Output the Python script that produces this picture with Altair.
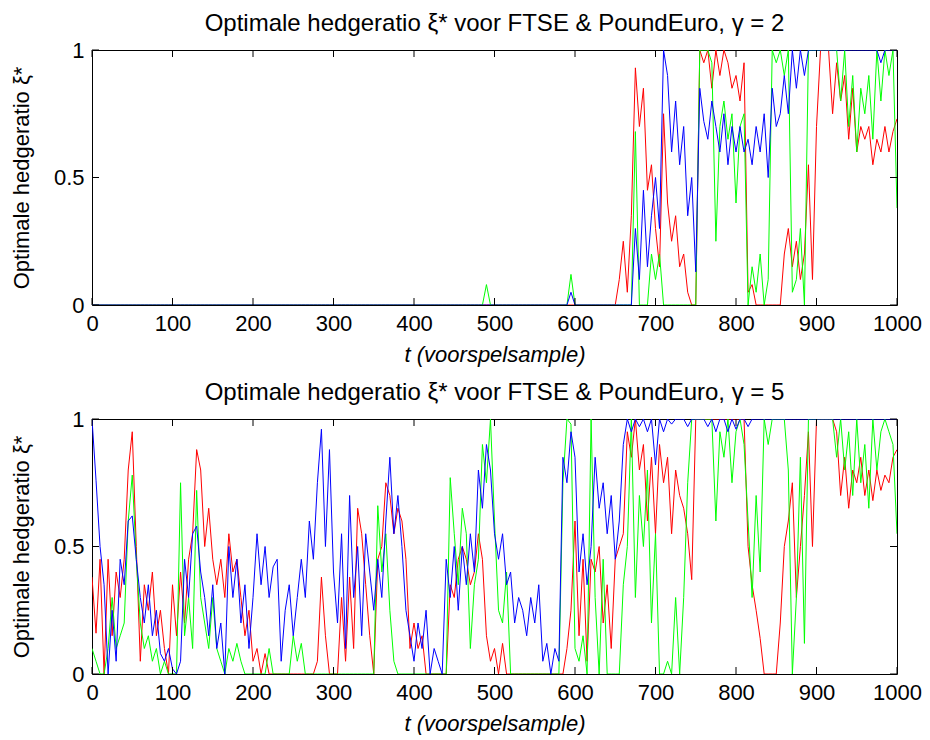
import altair as alt
import pandas as pd

# sample times (every 5th observation of the 1000-step forecast sample)
t_grid = list(range(0, 1001, 5))
x_ticks = [0, 100, 200, 300, 400, 500, 600, 700, 800, 900, 1000]
y_ticks = [0, 0.5, 1]

Z20 = [0.0] * 20

# ---------------- gamma = 2 (top panel) ----------------
blue_g2 = (Z20 * 5
    + [0.0] * 19 + [0.05]
    + [0.0] * 15 + [0.3, 0.1, 0.45, 0.15, 0.35]
    + [0.5, 0.3, 1.0, 0.9, 0.6, 0.8, 0.55, 0.7, 0.35, 0.5, 0.13, 0.85, 0.72, 0.65, 0.8, 0.7, 0.6, 0.75, 0.55, 0.7]
    + [0.6, 0.7, 0.6, 0.65, 0.55, 0.7, 0.6, 0.75, 0.5, 0.85, 0.7, 0.75, 0.9, 0.75, 1.0, 0.85, 1.0, 0.9, 1.0, 1.0]
    + [1.0] * 16 + [0.95, 1.0, 1.0, 1.0]
    + [1.0])
red_g2 = (Z20 * 6
    + [0.0] * 11 + [0.1, 0.25, 0.05, 0.35, 0.93, 0.7, 0.85, 0.45, 0.55]
    + [0.3, 0.15, 0.75, 0.4, 0.25, 0.35, 0.15, 0.2, 0.05, 0.0, 0.0, 1.0, 0.95, 1.0, 0.85, 1.0, 0.9, 1.0, 0.95, 0.85]
    + [0.9, 0.8, 0.95, 0.05, 0.08, 0.0, 0.0, 0.0, 0.0, 0.0, 0.0, 0.0, 0.2, 0.3, 0.15, 0.25, 0.1, 0.2, 0.55, 0.1]
    + [0.7, 1.0, 1.0, 1.0, 0.75, 0.95, 0.8, 0.9, 0.65, 0.85, 0.6, 0.7, 0.65, 0.7, 0.55, 0.65, 0.6, 0.7, 0.6, 0.68]
    + [0.73])
green_g2 = (Z20 * 4
    + [0.0] * 18 + [0.08, 0.0]
    + [0.0] * 19 + [0.12]
    + [0.0] * 15 + [0.68, 0.0, 0.0, 0.0, 0.2]
    + [0.1, 0.2, 0.0, 0.0, 0.0, 0.0, 0.0, 0.0, 0.0, 0.0, 0.0, 1.0, 1.0, 1.0, 0.95, 0.25, 0.7, 0.8, 0.65, 0.75]
    + [0.4, 0.7, 0.75, 0.0, 0.15, 0.05, 0.2, 0.0, 0.1, 1.0, 0.95, 1.0, 0.9, 1.0, 0.05, 0.1, 0.3, 0.0, 1.0, 1.0]
    + [1.0, 1.0, 1.0, 1.0, 1.0, 1.0, 0.8, 1.0, 0.7, 0.9, 0.6, 0.85, 0.75, 0.9, 0.65, 1.0, 0.8, 1.0, 0.9, 1.0]
    + [0.38])

# ---------------- gamma = 5 (bottom panel) ----------------
blue_g5 = ([1.0, 0.76, 0.5, 0.35, 0.0, 0.25, 0.05, 0.45, 0.35, 0.6, 0.62, 0.45, 0.3, 0.2, 0.35, 0.15, 0.25, 0.08, 0.05, 0.1]
    + [0.02, 0.0, 0.05, 0.45, 0.3, 0.55, 0.58, 0.4, 0.3, 0.15, 0.35, 0.1, 0.2, 0.0, 0.5, 0.3, 0.45, 0.2, 0.35, 0.1]
    + [0.3, 0.55, 0.35, 0.5, 0.3, 0.42, 0.45, 0.05, 0.25, 0.35, 0.15, 0.3, 0.45, 0.3, 0.6, 0.45, 0.75, 0.96, 0.5, 0.88]
    + [0.4, 0.2, 0.55, 0.1, 0.7, 0.3, 0.5, 0.15, 0.55, 0.4, 0.25, 0.45, 0.3, 0.6, 0.85, 0.55, 0.7, 0.5, 0.25, 0.15]
    + [0.05, 0.2, 0.1, 0.25, 0.0, 0.1, 0.05, 0.0, 0.45, 0.3, 0.5, 0.25, 0.5, 0.35, 0.55, 0.4, 0.8, 0.65, 0.9, 0.8]
    + [0.55, 0.45, 0.55, 0.35, 0.4, 0.2, 0.3, 0.25, 0.15, 0.3, 0.2, 0.35, 0.05, 0.12, 0.0, 0.1, 0.05, 0.85, 0.75, 0.95]
    + [0.85, 0.4, 0.55, 0.35, 0.5, 0.85, 0.65, 0.75, 0.55, 0.7, 0.45, 0.6, 0.9, 1.0, 0.95, 1.0, 0.97, 1.0, 0.95, 1.0]
    + [0.82, 1.0, 0.95, 1.0, 0.98, 1.0, 1.0, 1.0, 0.97, 1.0, 1.0, 1.0, 1.0, 0.97, 1.0, 0.95, 1.0, 1.0, 0.95, 1.0]
    + [0.96, 1.0, 1.0, 0.97, 1.0] + [1.0] * 15
    + [1.0] * 20
    + [1.0])
red_g5 = ([0.38, 0.16, 0.45, 0.0, 0.45, 0.15, 0.4, 0.3, 0.45, 0.8, 0.95, 0.5, 0.05, 0.35, 0.25, 0.4, 0.15, 0.25, 0.1, 0.0]
    + [0.35, 0.15, 0.4, 0.2, 0.45, 0.55, 0.88, 0.8, 0.5, 0.65, 0.45, 0.35, 0.45, 0.3, 0.55, 0.4, 0.45, 0.3, 0.15, 0.25]
    + [0.05, 0.1, 0.0, 0.08, 0.0, 0.0, 0.0, 0.0, 0.0, 0.0, 0.0, 0.0, 0.0, 0.0, 0.0, 0.0, 0.05, 0.38, 0.15, 0.0]
    + [0.0, 0.0, 0.3, 0.05, 0.38, 0.1, 0.65, 0.55, 0.35, 0.15, 0.0, 0.45, 0.5, 0.75, 0.7, 0.55, 0.65, 0.6, 0.45, 0.1]
    + [0.2, 0.1, 0.15, 0.0, 0.0, 0.0, 0.0, 0.0, 0.0, 0.35, 0.3, 0.45, 0.5, 0.45, 0.35, 0.4, 0.55, 0.45, 0.15, 0.05]
    + [0.1, 0.0, 0.12, 0.0, 0.0, 0.0, 0.0, 0.0, 0.0, 0.0, 0.0, 0.0, 0.0, 0.0, 0.0, 0.0, 0.0, 0.0, 0.1, 0.25]
    + [0.6, 0.15, 0.45, 0.05, 0.45, 0.4, 0.5, 0.2, 0.35, 0.1, 0.45, 0.5, 0.55, 0.95, 0.85, 1.0, 0.8, 0.9, 0.6, 0.85]
    + [0.55, 0.9, 0.75, 0.85, 0.55, 0.8, 0.7, 0.65, 0.55, 0.37, 1.0, 1.0, 1.0, 1.0, 1.0, 1.0, 1.0, 1.0, 1.0, 1.0]
    + [1.0, 1.0, 1.0, 0.5, 0.35, 0.25, 0.14, 0.0, 0.0, 0.0, 0.0, 0.2, 0.5, 0.6, 0.75, 0.3, 0.5, 0.7, 0.95, 0.5]
    + [1.0, 1.0, 1.0, 1.0, 1.0, 0.95, 0.7, 0.85, 0.65, 0.8, 0.75, 0.85, 0.7, 0.8, 0.68, 0.8, 0.72, 0.78, 0.75, 0.85]
    + [0.88])
green_g5 = ([0.1, 0.05, 0.0, 0.0, 0.1, 0.3, 0.1, 0.15, 0.2, 0.6, 0.78, 0.45, 0.2, 0.1, 0.15, 0.05, 0.1, 0.0, 0.05, 0.0]
    + [0.0, 0.0, 0.75, 0.15, 0.3, 0.1, 0.72, 0.3, 0.2, 0.1, 0.3, 0.1, 0.05, 0.0, 0.1, 0.05, 0.12, 0.05, 0.0, 0.0]
    + [0.0, 0.0, 0.0, 0.0, 0.1, 0.0, 0.0, 0.0, 0.0, 0.0, 0.15, 0.05, 0.12, 0.0, 0.0, 0.0, 0.0, 0.0, 0.0, 0.0]
    + [0.0, 0.0, 0.0, 0.0, 0.0, 0.0, 0.0, 0.0, 0.0, 0.0, 0.0, 0.66, 0.4, 0.55, 0.25, 0.05, 0.0, 0.0, 0.0, 0.0]
    + [0.0, 0.0, 0.0, 0.0, 0.0, 0.0, 0.0, 0.0, 0.0, 0.77, 0.55, 0.35, 0.65, 0.55, 0.1, 0.35, 0.45, 0.9, 0.75, 1.0]
    + [0.6, 0.25, 0.2, 0.4, 0.0, 0.0, 0.0, 0.0, 0.0, 0.0, 0.0, 0.0, 0.0, 0.0, 0.0, 0.0, 0.0, 0.75, 1.0, 0.98]
    + [0.1, 0.05, 0.15, 0.0, 1.0, 0.3, 0.0, 0.45, 0.0, 0.0, 0.0, 0.0, 0.35, 0.5, 1.0, 0.3, 0.7, 0.5, 0.8, 0.2]
    + [0.55, 0.0, 0.0, 0.05, 0.0, 0.3, 0.0, 0.3, 0.75, 1.0, 1.0, 1.0, 1.0, 1.0, 1.0, 0.6, 0.95, 0.85, 1.0, 0.75]
    + [0.95, 1.0, 0.9, 0.6, 0.3, 0.7, 0.4, 1.0, 0.9, 1.0, 1.0, 1.0, 1.0, 0.8, 0.0, 0.3, 0.85, 0.12, 1.0, 1.0]
    + [1.0, 1.0, 1.0, 1.0, 1.0, 0.85, 1.0, 0.8, 0.95, 0.7, 1.0, 0.75, 0.9, 0.65, 1.0, 0.8, 0.95, 1.0, 0.95, 0.9]
    + [0.55])

titles = ["Optimale hedgeratio \u03be* voor FTSE & PoundEuro, \u03b3 = 2",
          "Optimale hedgeratio \u03be* voor FTSE & PoundEuro, \u03b3 = 5"]
x_title = "t (voorspelsample)"
y_title = "Optimale hedgeratio \u03be*"

W, H = 805, 255
FONT = "Liberation Sans"
TICK = 7

xscale = alt.Scale(domain=[0, 1000], nice=False, zero=False)
yscale = alt.Scale(domain=[0, 1], nice=False)
xaxis = alt.Axis(values=x_ticks, title=x_title, format="d", labelPadding=8,
                 titlePadding=10, titleFontStyle="italic", labelFlush=False)
yaxis = alt.Axis(values=y_ticks, title=y_title,
                 labelExpr="datum.value == 0.5 ? '0.5' : format(datum.value, 'd')",
                 labelPadding=8, titlePadding=20)


def panel(blue, red, green, title):
    df = pd.DataFrame({"t": t_grid, "blue": blue, "red": red, "green": green})
    layers = []
    for name, col in [("red", "#ff0000"), ("green", "#00ff00"), ("blue", "#0000ff")]:
        layers.append(
            alt.Chart(df).mark_line(color=col, strokeWidth=1, clip=True).encode(
                x=alt.X("t:Q", scale=xscale, axis=xaxis),
                y=alt.Y(f"{name}:Q", scale=yscale, axis=yaxis),
            )
        )
    xt = pd.DataFrame({"t": x_ticks})
    yt = pd.DataFrame({"v": y_ticks})
    layers.append(alt.Chart(xt).mark_rule(color="black", strokeWidth=1).encode(
        x=alt.X("t:Q", scale=xscale, axis=xaxis), y=alt.value(0), y2=alt.value(TICK)))
    layers.append(alt.Chart(xt).mark_rule(color="black", strokeWidth=1).encode(
        x=alt.X("t:Q", scale=xscale, axis=xaxis), y=alt.value(H), y2=alt.value(H - TICK)))
    layers.append(alt.Chart(yt).mark_rule(color="black", strokeWidth=1).encode(
        y=alt.Y("v:Q", scale=yscale, axis=yaxis), x=alt.value(0), x2=alt.value(TICK)))
    layers.append(alt.Chart(yt).mark_rule(color="black", strokeWidth=1).encode(
        y=alt.Y("v:Q", scale=yscale, axis=yaxis), x=alt.value(W - TICK), x2=alt.value(W)))
    return alt.layer(*layers).properties(
        width=W, height=H,
        title=alt.TitleParams(title, offset=3),
    )


chart = alt.vconcat(
    panel(blue_g2, red_g2, green_g2, titles[0]),
    panel(blue_g5, red_g5, green_g5, titles[1]),
    spacing=14,
).properties(
    padding={"left": 1, "top": 3, "right": 0, "bottom": 0},
    background="white",
).configure_view(
    stroke="black", strokeWidth=1
).configure_axis(
    grid=False, domain=False, ticks=False,
    labelFont=FONT, labelFontSize=22, labelColor="black",
    titleFont=FONT, titleFontSize=22, titleColor="black", titleFontWeight="normal",
).configure_title(
    font=FONT, fontSize=24, fontWeight="normal", color="black", anchor="middle",
)

chart.save("out.html", embed_options={"renderer": "svg", "actions": False})
